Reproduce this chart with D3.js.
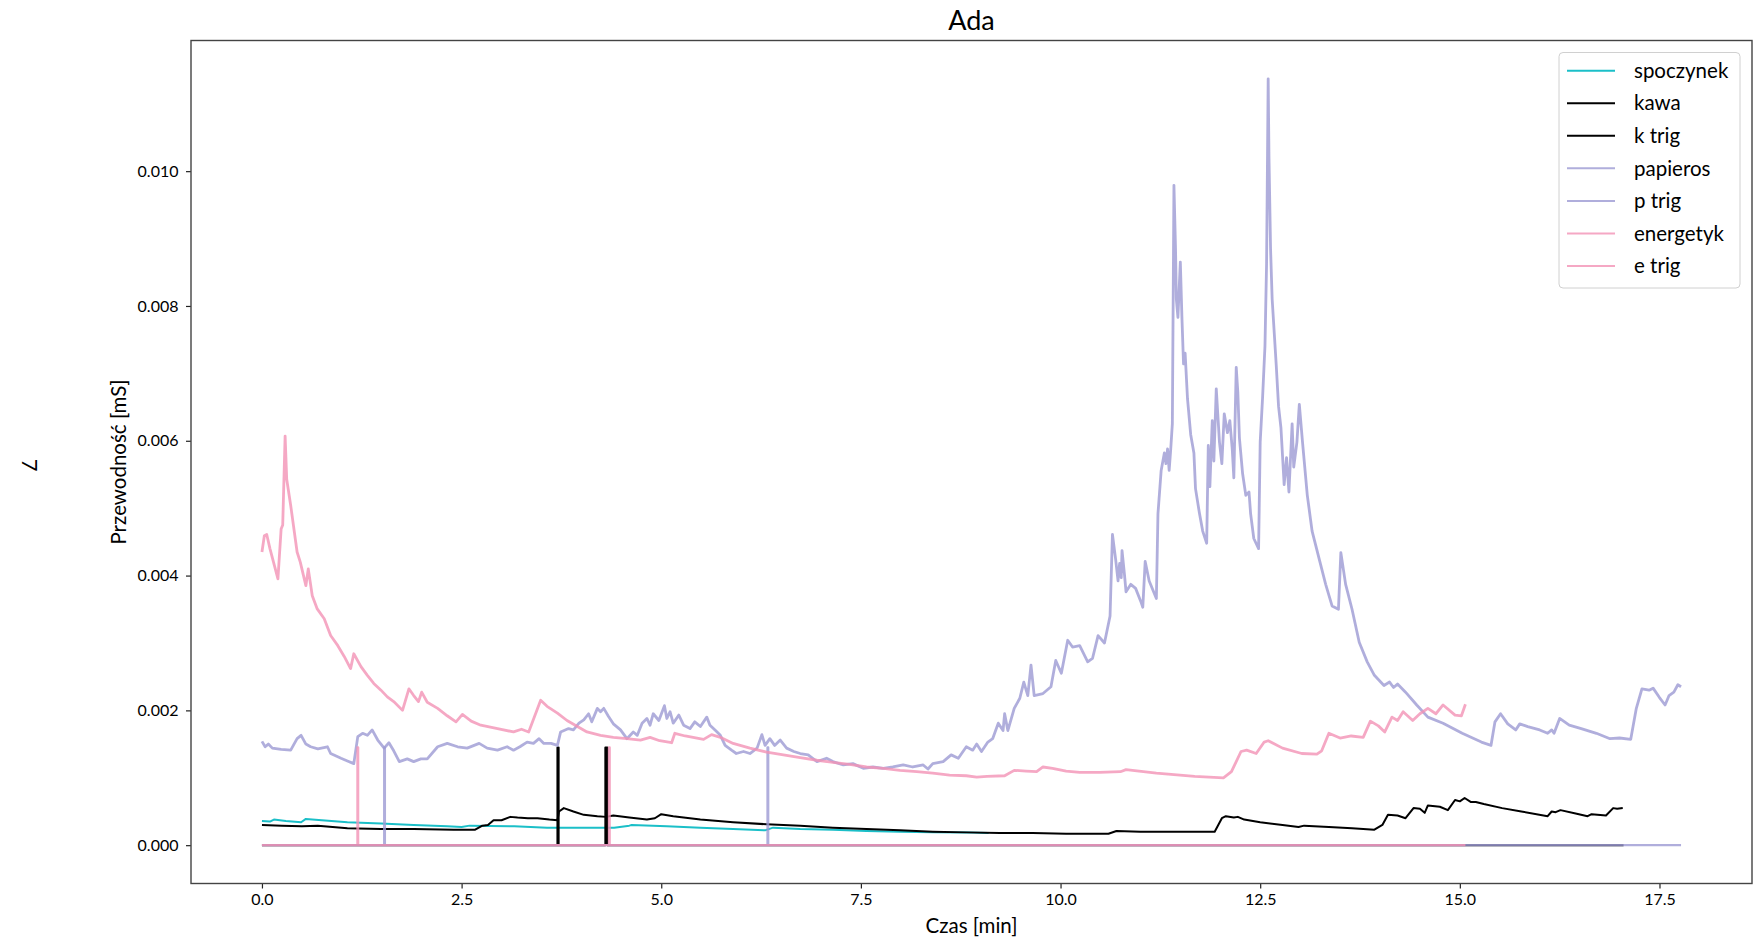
<!DOCTYPE html>
<html>
<head>
<meta charset="utf-8">
<script src="https://cdn.jsdelivr.net/npm/d3@7"></script>
<style>
  body { margin: 0; background: #fff; }
  text { font-family: Lato, "Open Sans", sans-serif; fill: #000; }
</style>
</head>
<body>
<svg id="chart" width="1757" height="943"></svg>
<script>
// ---- data ----
var spoczynekT = [0.00,0.10,0.15,0.30,0.49,0.55,0.75,1.07,1.49,1.90,2.32,2.50,2.60,3.16,3.57,3.99,4.41,4.60,4.63,5.07,5.49,5.90,6.30,6.40,6.74,7.15,7.57,7.99,8.40,8.82,9.10];
var spoczynekV = [0.00036,0.00035,0.00038,0.00036,0.00034,0.00039,0.00037,0.00034,0.00032,0.00030,0.00028,0.00027,0.00029,0.00028,0.00026,0.00026,0.00026,0.00029,0.00030,0.00028,0.00026,0.00024,0.00022,0.00026,0.00024,0.00023,0.00021,0.00020,0.00019,0.00019,0.00018];

var kawaT = [0.00,0.25,0.50,0.70,1.07,1.49,1.90,2.40,2.67,2.76,2.83,2.90,3.00,3.11,3.20,3.33,3.45,3.60,3.70,3.72,3.78,3.90,4.03,4.20,4.31,4.40,4.60,4.82,4.92,5.00,5.15,5.49,5.90,6.32,6.74,7.15,7.57,7.99,8.40,8.82,9.24,9.65,10.07,10.60,10.70,11.00,11.45,11.93,12.02,12.07,12.17,12.22,12.30,12.50,12.78,12.98,13.05,13.36,13.65,13.93,14.03,14.10,14.22,14.32,14.42,14.50,14.56,14.60,14.75,14.85,14.94,15.00,15.06,15.14,15.20,15.30,15.53,15.77,16.10,16.15,16.20,16.26,16.45,16.60,16.65,16.83,16.92,16.97,17.04];
var kawaV = [0.00030,0.00029,0.00028,0.00029,0.00025,0.00024,0.00024,0.00023,0.00023,0.00029,0.00030,0.00037,0.00037,0.00042,0.00041,0.00040,0.00040,0.00038,0.00037,0.00050,0.00055,0.00050,0.00045,0.00043,0.00042,0.00044,0.00041,0.00038,0.00040,0.00046,0.00043,0.00038,0.00034,0.00031,0.00029,0.00026,0.00024,0.00022,0.00020,0.00019,0.00018,0.00018,0.00017,0.00017,0.00021,0.00020,0.00020,0.00020,0.00040,0.00043,0.00041,0.00042,0.00038,0.00034,0.00030,0.00027,0.00029,0.00027,0.00025,0.00023,0.00030,0.00045,0.00044,0.00040,0.00055,0.00054,0.00048,0.00059,0.00057,0.00052,0.00067,0.00065,0.00070,0.00064,0.00064,0.00061,0.00055,0.00050,0.00043,0.00050,0.00049,0.00052,0.00047,0.00043,0.00046,0.00044,0.00055,0.00054,0.00055];

var kTrigT = [0, 3.70, 3.70, 3.715, 3.715, 4.30, 4.30, 4.325, 4.325, 17.05];
var kTrigV = [0, 0, 0.00145, 0.00145, 0, 0, 0.00145, 0.00145, 0, 0];

var papierosT = [0.00,0.04,0.08,0.13,0.24,0.36,0.44,0.49,0.55,0.61,0.70,0.82,0.86,0.99,1.07,1.15,1.20,1.26,1.32,1.38,1.45,1.49,1.53,1.59,1.65,1.72,1.82,1.90,1.99,2.07,2.20,2.32,2.45,2.57,2.72,2.82,2.95,3.07,3.15,3.23,3.32,3.40,3.47,3.53,3.62,3.70,3.74,3.84,3.90,3.97,4.03,4.09,4.13,4.20,4.24,4.28,4.34,4.40,4.49,4.57,4.65,4.70,4.76,4.82,4.86,4.90,4.97,5.04,5.07,5.11,5.15,5.22,5.28,5.36,5.42,5.49,5.57,5.61,5.68,5.74,5.80,5.88,5.94,6.03,6.11,6.20,6.26,6.30,6.36,6.42,6.49,6.57,6.66,6.74,6.84,6.95,7.07,7.15,7.28,7.40,7.53,7.65,7.78,7.90,8.03,8.15,8.28,8.34,8.40,8.53,8.63,8.72,8.82,8.90,8.95,9.01,9.09,9.15,9.22,9.28,9.30,9.34,9.42,9.49,9.54,9.59,9.63,9.67,9.78,9.88,9.94,10.01,10.09,10.15,10.24,10.34,10.40,10.47,10.55,10.62,10.65,10.69,10.72,10.74,10.76,10.77,10.80,10.82,10.88,10.94,11.01,11.03,11.06,11.11,11.20,11.22,11.26,11.30,11.32,11.34,11.36,11.38,11.40,11.42,11.44,11.45,11.47,11.50,11.52,11.54,11.56,11.59,11.63,11.67,11.69,11.74,11.78,11.83,11.85,11.87,11.90,11.92,11.95,11.99,12.02,12.05,12.09,12.12,12.15,12.17,12.20,12.22,12.24,12.28,12.32,12.36,12.38,12.42,12.48,12.50,12.53,12.56,12.58,12.60,12.61,12.63,12.65,12.70,12.73,12.76,12.79,12.80,12.83,12.86,12.90,12.92,12.96,12.99,13.03,13.09,13.15,13.24,13.32,13.40,13.48,13.51,13.57,13.65,13.74,13.84,13.93,14.05,14.12,14.17,14.22,14.32,14.46,14.60,14.79,15.03,15.27,15.39,15.44,15.51,15.60,15.70,15.75,15.85,16.00,16.10,16.15,16.18,16.25,16.37,16.52,16.71,16.88,17.00,17.14,17.21,17.28,17.37,17.42,17.50,17.57,17.62,17.68,17.73,17.77];
var papierosV = [0.00154,0.00146,0.00150,0.00144,0.00142,0.00141,0.00158,0.00163,0.00150,0.00146,0.00143,0.00146,0.00136,0.00129,0.00125,0.00121,0.00161,0.00166,0.00163,0.00171,0.00156,0.00150,0.00144,0.00152,0.00140,0.00124,0.00128,0.00124,0.00128,0.00128,0.00146,0.00151,0.00146,0.00144,0.00151,0.00144,0.00141,0.00146,0.00141,0.00146,0.00153,0.00151,0.00158,0.00151,0.00151,0.00148,0.00168,0.00173,0.00171,0.00181,0.00186,0.00195,0.00183,0.00203,0.00198,0.00203,0.00191,0.00180,0.00171,0.00158,0.00168,0.00163,0.00181,0.00188,0.00178,0.00195,0.00185,0.00207,0.00188,0.00198,0.00181,0.00193,0.00178,0.00173,0.00183,0.00176,0.00190,0.00178,0.00170,0.00163,0.00148,0.00141,0.00136,0.00139,0.00136,0.00144,0.00164,0.00148,0.00158,0.00148,0.00156,0.00144,0.00139,0.00136,0.00134,0.00124,0.00129,0.00124,0.00119,0.00121,0.00114,0.00116,0.00114,0.00116,0.00119,0.00116,0.00119,0.00113,0.00121,0.00124,0.00134,0.00129,0.00146,0.00141,0.00150,0.00139,0.00153,0.00158,0.00181,0.00170,0.00195,0.00170,0.00203,0.00218,0.00242,0.00222,0.00267,0.00222,0.00225,0.00235,0.00274,0.00255,0.00304,0.00294,0.00296,0.00272,0.00277,0.00311,0.00300,0.00340,0.00461,0.00424,0.00392,0.00418,0.00397,0.00437,0.00402,0.00376,0.00387,0.00381,0.00360,0.00353,0.00421,0.00392,0.00366,0.00492,0.00556,0.00582,0.00566,0.00588,0.00556,0.00588,0.00625,0.00979,0.00884,0.00810,0.00783,0.00865,0.00783,0.00714,0.00730,0.00662,0.00609,0.00582,0.00529,0.00492,0.00466,0.00448,0.00593,0.00532,0.00630,0.00570,0.00677,0.00598,0.00566,0.00640,0.00612,0.00630,0.00588,0.00545,0.00709,0.00672,0.00604,0.00551,0.00519,0.00524,0.00492,0.00455,0.00440,0.00598,0.00664,0.00741,0.00863,0.01137,0.01021,0.00884,0.00810,0.00714,0.00651,0.00619,0.00556,0.00535,0.00575,0.00524,0.00625,0.00561,0.00598,0.00654,0.00598,0.00519,0.00466,0.00424,0.00387,0.00355,0.00350,0.00434,0.00387,0.00350,0.00301,0.00272,0.00252,0.00237,0.00242,0.00234,0.00239,0.00227,0.00208,0.00190,0.00181,0.00166,0.00153,0.00148,0.00183,0.00195,0.00180,0.00171,0.00180,0.00176,0.00171,0.00166,0.00171,0.00166,0.00188,0.00178,0.00173,0.00166,0.00158,0.00159,0.00157,0.00203,0.00232,0.00230,0.00233,0.00219,0.00208,0.00222,0.00227,0.00238,0.00235];

var pTrigT = [0, 1.53, 1.53, 1.54, 1.54, 6.33, 6.33, 6.34, 6.34, 17.77];
var pTrigV = [0, 0, 0.00145, 0.00145, 0, 0, 0.00145, 0.00145, 0, 0];

var energetykT = [0.00,0.03,0.06,0.10,0.20,0.24,0.26,0.29,0.31,0.36,0.44,0.48,0.55,0.58,0.63,0.69,0.78,0.86,0.95,1.03,1.11,1.15,1.24,1.32,1.40,1.49,1.57,1.65,1.76,1.84,1.90,1.96,2.00,2.07,2.20,2.32,2.43,2.51,2.62,2.74,2.95,3.15,3.25,3.34,3.49,3.57,3.70,3.82,3.95,4.07,4.24,4.40,4.57,4.74,4.86,4.98,5.13,5.17,5.30,5.53,5.63,5.74,5.90,6.11,6.32,6.53,6.74,6.95,7.15,7.36,7.57,7.78,7.99,8.20,8.40,8.61,8.82,8.95,9.08,9.30,9.42,9.57,9.70,9.78,9.90,10.07,10.24,10.49,10.75,10.82,11.20,11.68,12.04,12.14,12.26,12.33,12.45,12.55,12.60,12.78,13.02,13.21,13.27,13.36,13.50,13.64,13.79,13.88,13.98,14.06,14.15,14.22,14.29,14.41,14.50,14.60,14.70,14.79,14.94,15.02,15.07];
var energetykV = [0.00435,0.00459,0.00461,0.00440,0.00395,0.00469,0.00475,0.00607,0.00543,0.00504,0.00435,0.00420,0.00385,0.00410,0.00370,0.00351,0.00336,0.00311,0.00296,0.00280,0.00262,0.00284,0.00265,0.00252,0.00240,0.00230,0.00220,0.00213,0.00200,0.00232,0.00222,0.00213,0.00227,0.00212,0.00203,0.00192,0.00183,0.00194,0.00184,0.00178,0.00173,0.00168,0.00172,0.00168,0.00215,0.00206,0.00196,0.00185,0.00176,0.00168,0.00163,0.00160,0.00158,0.00156,0.00160,0.00155,0.00152,0.00166,0.00162,0.00157,0.00164,0.00160,0.00151,0.00144,0.00138,0.00134,0.00130,0.00126,0.00123,0.00120,0.00116,0.00114,0.00111,0.00109,0.00107,0.00104,0.00103,0.00101,0.00102,0.00103,0.00111,0.00110,0.00109,0.00116,0.00114,0.00110,0.00108,0.00108,0.00109,0.00112,0.00107,0.00102,0.00100,0.00109,0.00139,0.00141,0.00136,0.00153,0.00155,0.00144,0.00136,0.00135,0.00140,0.00166,0.00159,0.00162,0.00160,0.00184,0.00177,0.00168,0.00190,0.00185,0.00198,0.00185,0.00195,0.00203,0.00195,0.00208,0.00193,0.00192,0.00209];

var eTrigT = [0, 1.195, 1.195, 1.205, 1.205, 4.345, 4.345, 4.355, 4.355, 15.07];
var eTrigV = [0, 0, 0.00145, 0.00145, 0, 0, 0.00145, 0.00145, 0, 0];

var xTicks = [0, 2.5, 5, 7.5, 10, 12.5, 15, 17.5];
var yTicks = [0, 0.002, 0.004, 0.006, 0.008, 0.010];

var series = [
  {name: "spoczynek", t: spoczynekT, v: spoczynekV, color: "#1bbfc8", width: 2.0, alpha: 1},
  {name: "kawa",      t: kawaT,      v: kawaV,      color: "#000000", width: 2.0, alpha: 1},
  {name: "k trig",    t: kTrigT,     v: kTrigV,     color: "#000000", width: 2.0, alpha: 1},
  {name: "papieros",  t: papierosT,  v: papierosV,  color: "#9c9ad3", width: 2.8, alpha: 0.8},
  {name: "p trig",    t: pTrigT,     v: pTrigV,     color: "#9c9ad3", width: 2.2, alpha: 0.8},
  {name: "energetyk", t: energetykT, v: energetykV, color: "#f292b5", width: 2.8, alpha: 0.8},
  {name: "e trig",    t: eTrigT,     v: eTrigV,     color: "#f292b5", width: 2.2, alpha: 0.8}
];

// ---- layout ----
var frame = {left: 191, right: 1752, top: 40.5, bottom: 883.5};

var svg = d3.select("#chart");

// matplotlib-like 5% margins
var allT = d3.merge(series.map(s => s.t))
  , allV = d3.merge(series.map(s => s.v));
var tExt = d3.extent(allT), vExt = d3.extent(allV);
var tPad = (tExt[1] - tExt[0]) * 0.05
  , vPad = (vExt[1] - vExt[0]) * 0.05;

var x = d3.scaleLinear()
  .domain([tExt[0] - tPad, tExt[1] + tPad])
  .range([frame.left, frame.right]);
var y = d3.scaleLinear()
  .domain([vExt[0] - vPad, vExt[1] + vPad])
  .range([frame.bottom, frame.top]);

var plot = svg.append("g");
plot.append("clipPath").attr("id", "clip")
  .append("rect")
  .attr("x", frame.left).attr("y", frame.top)
  .attr("width", frame.right - frame.left)
  .attr("height", frame.bottom - frame.top);

var line = d3.line()
  .x(d => x(d[0]))
  .y(d => y(d[1]));

plot.append("g").attr("clip-path", "url(#clip)")
  .selectAll("path")
  .data(series)
 .enter().append("path")
  .attr("d", d => line(d3.zip(d.t, d.v)))
  .attr("fill", "none")
  .attr("stroke", d => d.color)
  .attr("stroke-opacity", d => d.alpha)
  .attr("stroke-width", d => d.width)
  .attr("stroke-linejoin", "round");

// axes
var yAxis = svg.append("g")
  .attr("transform", "translate(" + frame.left + ",0)")
  .call(d3.axisLeft(y).tickValues(yTicks).tickFormat(d3.format(".3f")).tickSize(5).tickPadding(7.5));
var xAxis = svg.append("g")
  .attr("transform", "translate(0," + frame.bottom + ")")
  .call(d3.axisBottom(x).tickValues(xTicks).tickFormat(d3.format(".1f")).tickSize(5).tickPadding(5));

[xAxis, yAxis].forEach(function(a){
  a.select(".domain").remove();
  a.selectAll(".tick line").attr("stroke", "#222").attr("stroke-width", 1.2);
  a.selectAll(".tick text")
    .style("font-family", "Lato, sans-serif")
    .style("font-size", "16px")
    .attr("fill", "#000");
});

// frame
svg.append("rect")
  .attr("x", frame.left).attr("y", frame.top)
  .attr("width", frame.right - frame.left)
  .attr("height", frame.bottom - frame.top)
  .attr("fill", "none")
  .attr("stroke", "#444")
  .attr("stroke-width", 1.4);

// labels
var cx = (frame.left + frame.right) / 2
  , cy = (frame.top + frame.bottom) / 2;

svg.append("text")
  .attr("x", cx).attr("y", 30)
  .attr("text-anchor", "middle")
  .style("font-size", "27px")
  .text("Ada");

svg.append("text")
  .attr("x", cx).attr("y", 933)
  .attr("text-anchor", "middle")
  .style("font-size", "20.5px")
  .text("Czas [min]");

svg.append("text")
  .attr("transform", "translate(126," + cy + ") rotate(-90)")
  .attr("text-anchor", "middle")
  .style("font-size", "20.5px")
  .text("Przewodność [mS]");

svg.append("text")
  .attr("transform", "translate(30,465) rotate(90)")
  .attr("text-anchor", "middle")
  .attr("dominant-baseline", "central")
  .style("font-size", "22px")
  .text("7");

// legend
var legend = svg.append("g").attr("transform", "translate(1559,52.5)");
legend.append("rect")
  .attr("width", 181).attr("height", 235.5)
  .attr("rx", 4)
  .attr("fill", "#fff").attr("fill-opacity", 0.8)
  .attr("stroke", "#d0d0d0").attr("stroke-width", 1);

var rows = legend.selectAll(".legendRow")
  .data(series)
 .enter().append("g")
  .attr("class", "legendRow")
  .attr("transform", (d, i) => "translate(0," + (18.2 + i * 32.55) + ")");
rows.append("line")
  .attr("x1", 8).attr("x2", 56)
  .attr("stroke", d => d.color)
  .attr("stroke-opacity", d => d.alpha)
  .attr("stroke-width", 2);
rows.append("text")
  .attr("x", 75)
  .attr("dy", "0.35em")
  .style("font-size", "20.5px")
  .text(d => d.name);
</script>
</body>
</html>
